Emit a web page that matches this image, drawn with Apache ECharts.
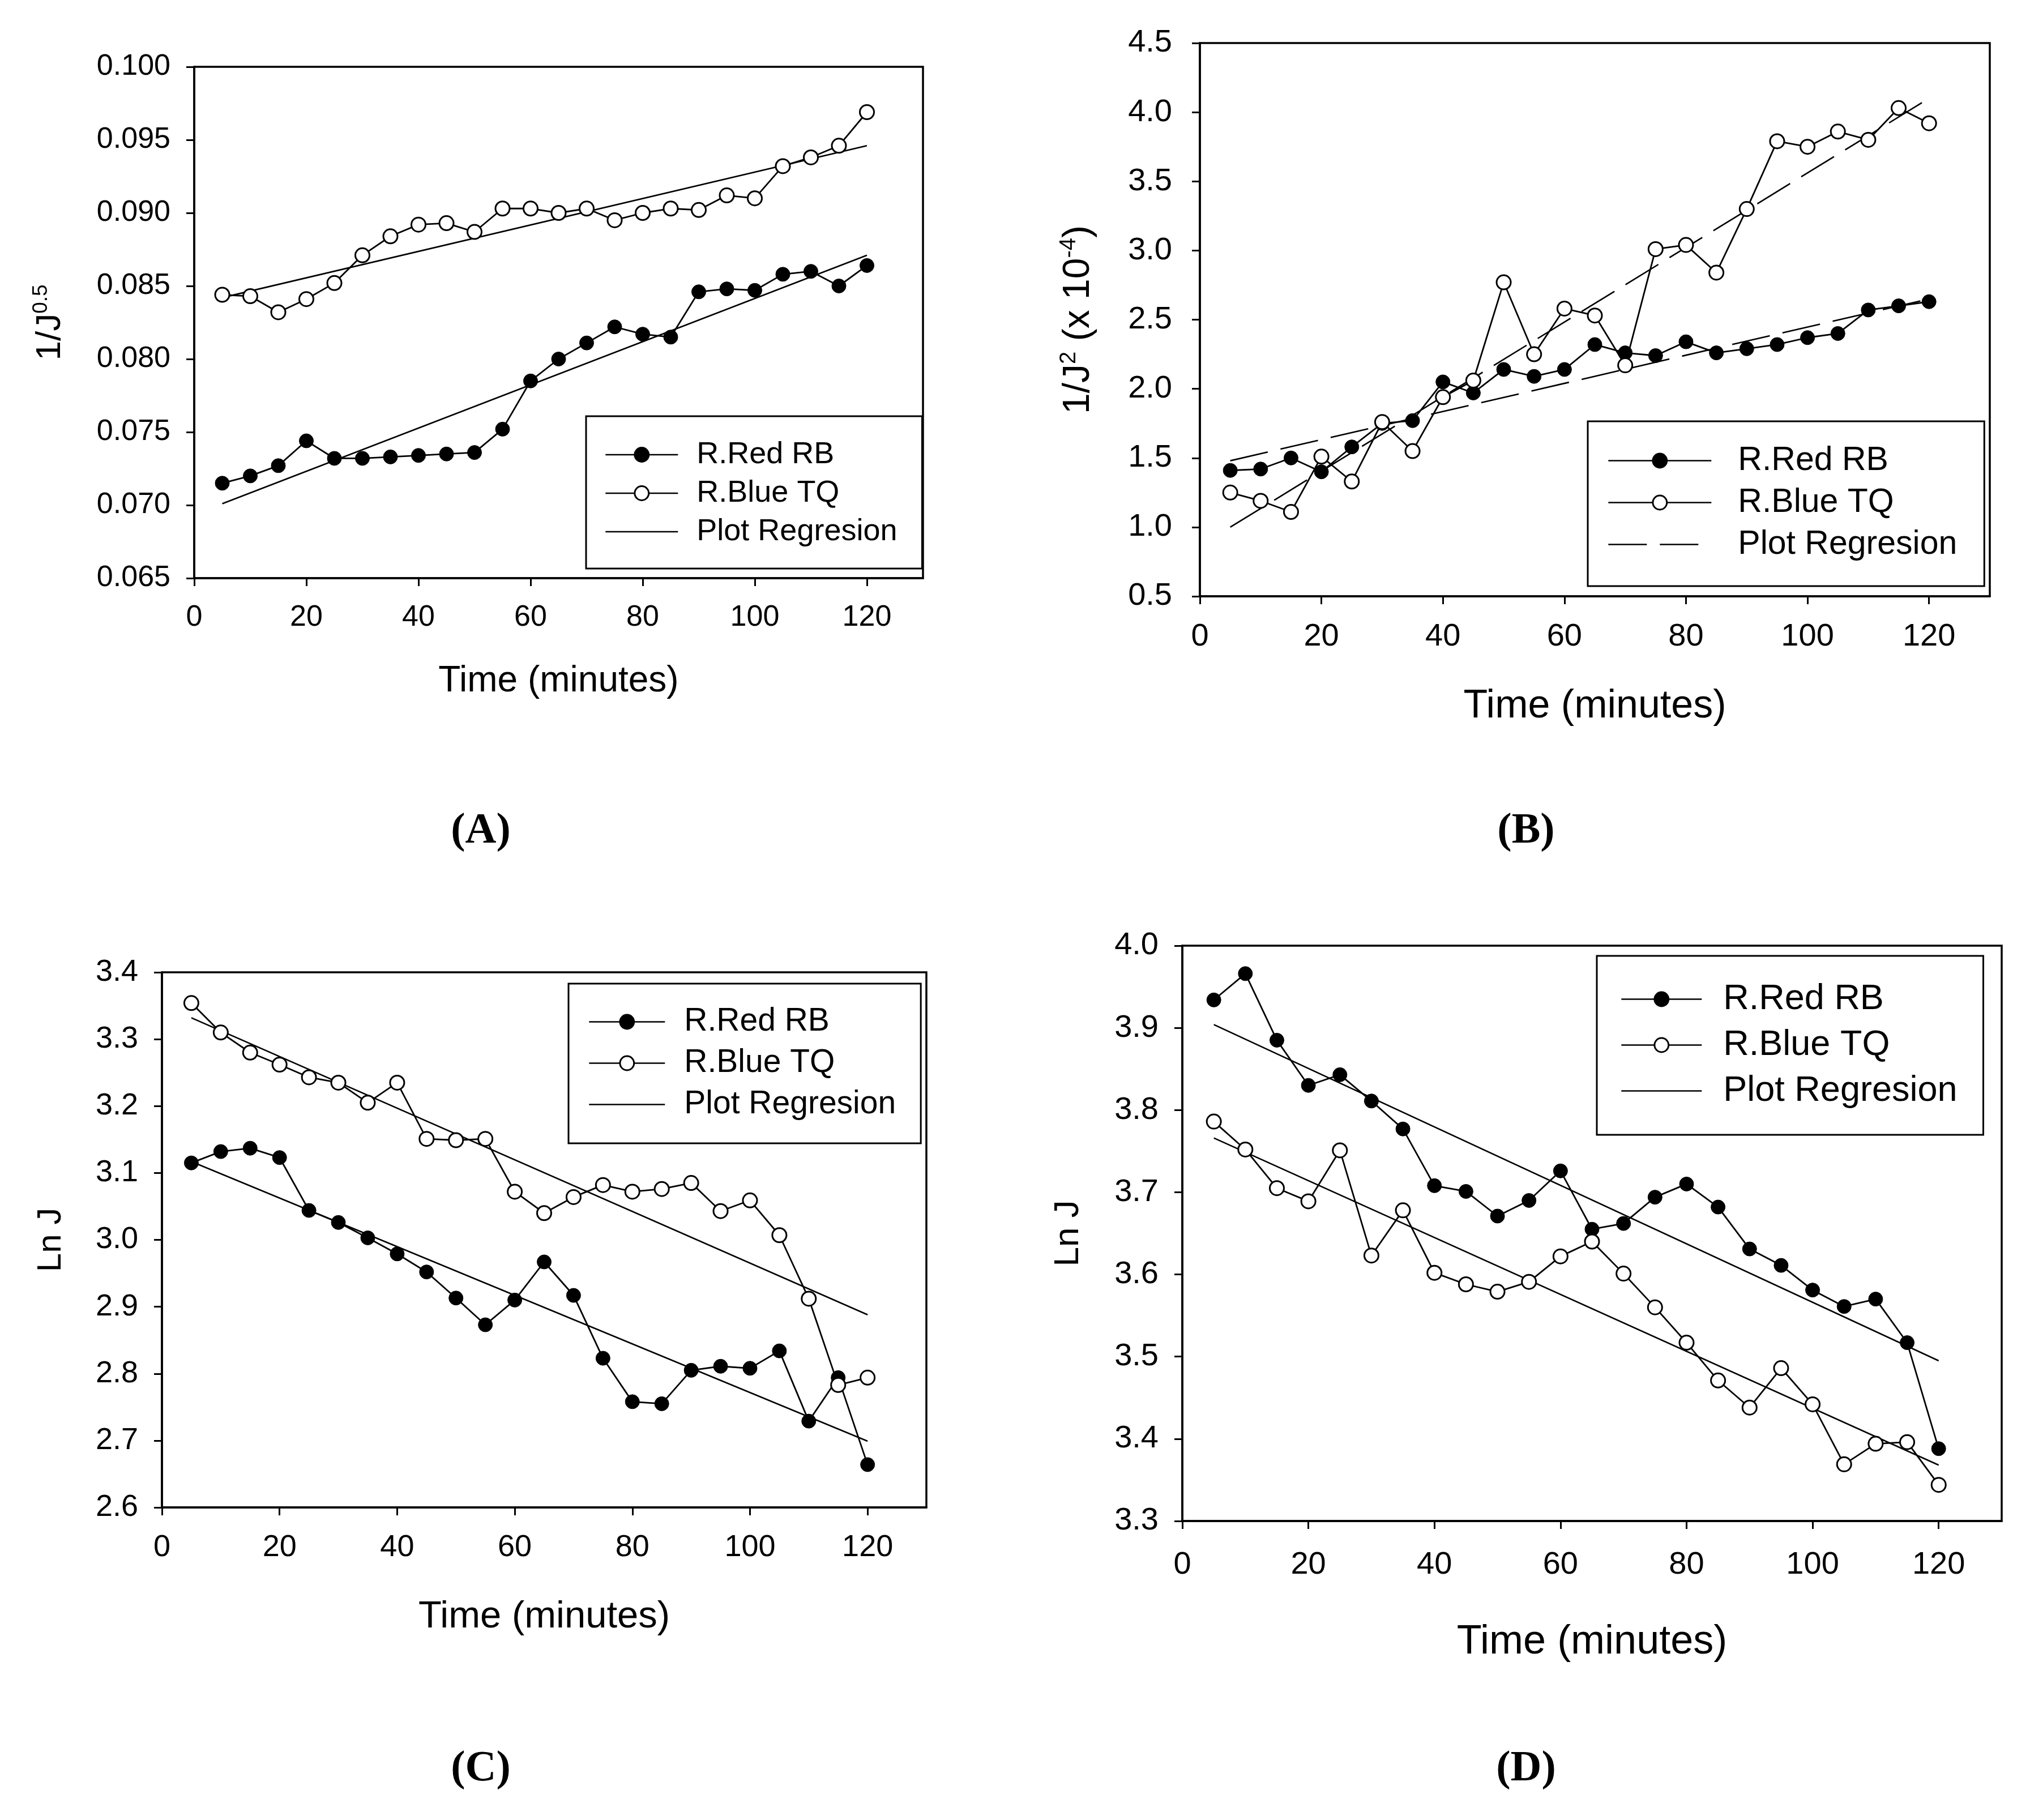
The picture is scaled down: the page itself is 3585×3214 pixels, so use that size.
<!DOCTYPE html>
<html>
<head>
<meta charset="utf-8">
<script src="https://cdn.jsdelivr.net/npm/echarts@6/dist/echarts.min.js"></script>
<style>
html,body{margin:0;padding:0;background:#fff;}
#c{width:3585px;height:3214px;}
</style>
</head>
<body>
<div id="c"></div>
<script>
// ---------------- DATA ----------------
const time = [5,10,15,20,25,30,35,40,45,50,55,60,65,70,75,80,85,90,95,100,105,110,115,120];
const regTime = [5, 120];
const xTickValues = [0, 20, 40, 60, 80, 100, 120];
const legendNames = ['R.Red RB', 'R.Blue TQ', 'Plot Regresion'];
const xTitle = 'Time (minutes)';
const panelLabels = ['(A)', '(B)', '(C)', '(D)'];

// Panel A : 1/J^0.5
const aRed  = [0.0715,0.0720,0.0727,0.0744,0.0732,0.0732,0.0733,0.0734,0.0735,0.0736,0.0752,0.0785,
               0.0800,0.0811,0.0822,0.0817,0.0815,0.0846,0.0848,0.0847,0.0858,0.0860,0.0850,0.0864];
const aBlue = [0.0844,0.0843,0.0832,0.0841,0.0852,0.0871,0.0884,0.0892,0.0893,0.0887,0.0903,0.0903,
               0.0900,0.0903,0.0895,0.0900,0.0903,0.0902,0.0912,0.0910,0.0932,0.0938,0.0946,0.0969];
const aRegRed  = [0.0701, 0.0871];
const aRegBlue = [0.0842, 0.0946];

// Panel B : 1/J^2 (x 10^-4)
const bRed  = [1.41,1.42,1.50,1.40,1.58,1.75,1.77,2.05,1.97,2.14,2.09,2.14,
               2.32,2.26,2.24,2.34,2.26,2.29,2.32,2.37,2.40,2.57,2.60,2.63];
const bBlue = [1.25,1.19,1.11,1.51,1.33,1.76,1.55,1.94,2.06,2.77,2.25,2.58,
               2.53,2.17,3.01,3.04,2.84,3.30,3.79,3.75,3.86,3.80,4.03,3.92];
const bRegRed  = [1.48, 2.65];
const bRegBlue = [1.00, 4.10];

// Panel C : Ln J
const cRed  = [3.115,3.132,3.137,3.123,3.044,3.026,3.003,2.979,2.952,2.913,2.873,2.910,
               2.967,2.917,2.823,2.758,2.755,2.805,2.811,2.808,2.834,2.729,2.794,2.664];
const cBlue = [3.354,3.310,3.280,3.262,3.243,3.235,3.205,3.235,3.151,3.149,3.151,3.072,
               3.040,3.064,3.082,3.072,3.076,3.085,3.043,3.059,3.007,2.912,2.783,2.794];
const cRegRed  = [3.117, 2.699];
const cRegBlue = [3.332, 2.888];

// Panel D : Ln J
const dRed  = [3.934,3.966,3.885,3.830,3.843,3.811,3.777,3.708,3.701,3.671,3.690,3.726,
               3.655,3.662,3.694,3.710,3.682,3.631,3.611,3.581,3.561,3.570,3.517,3.388];
const dBlue = [3.786,3.752,3.705,3.689,3.751,3.623,3.678,3.602,3.588,3.579,3.591,3.622,
               3.640,3.601,3.560,3.517,3.471,3.438,3.486,3.442,3.369,3.394,3.396,3.344];
const dRegRed  = [3.904, 3.495];
const dRegBlue = [3.766, 3.368];

// ---------------- LAYOUT / STYLE ----------------
const SANS = "'Liberation Sans', Arial, Helvetica, sans-serif";
const SERIF = "'Liberation Serif', 'Times New Roman', serif";

const panels = [
  { red: aRed, blue: aBlue, regRed: aRegRed, regBlue: aRegBlue, dash: 'solid',
    grid: { left: 343, top: 118, width: 1287, height: 903 },
    yMin: 0.065, yMax: 0.100, yStep: 0.005, dec: 3,
    yName: '{b|1/J}{s|0.5}', yFont: 62, yNameGap: 223,
    tickFont: 52, yLabelMargin: 42, xLabelMargin: 44, xFont: 64, xNameGap: 150,
    lg: { left: 1035, top: 735, font: 54, gap: 14, pad: [41, 44, 38, 33], iconW: 128, textPad: 28 },
    label: [849, 1468] },
  { red: bRed, blue: bBlue, regRed: bRegRed, regBlue: bRegBlue, dash: [68, 23],
    grid: { left: 2119, top: 76, width: 1395, height: 977 },
    yMin: 0.5, yMax: 4.5, yStep: 0.5, dec: 1,
    yName: '{b|1/J}{s|2}{b| (x 10}{s|-4}{b|)}', yFont: 66, yNameGap: 181,
    tickFont: 56, yLabelMargin: 49, xLabelMargin: 44, xFont: 70, xNameGap: 160,
    lg: { left: 2804, top: 744, font: 59, gap: 15, pad: [40, 48, 44, 35], iconW: 182, textPad: 42 },
    label: [2695, 1468] },
  { red: cRed, blue: cBlue, regRed: cRegRed, regBlue: cRegBlue, dash: 'solid',
    grid: { left: 286, top: 1717, width: 1350, height: 945 },
    yMin: 2.6, yMax: 3.4, yStep: 0.1, dec: 1,
    yName: '{b|Ln J}', yFont: 60, yNameGap: 166,
    tickFont: 54, yLabelMargin: 42, xLabelMargin: 44, xFont: 67, xNameGap: 160,
    lg: { left: 1004, top: 1737, font: 57, gap: 16, pad: [39, 44, 40, 35], iconW: 134, textPad: 29 },
    label: [849, 3124] },
  { red: dRed, blue: dBlue, regRed: dRegRed, regBlue: dRegBlue, dash: 'solid',
    grid: { left: 2088, top: 1670, width: 1447, height: 1016 },
    yMin: 3.3, yMax: 4.0, yStep: 0.1, dec: 1,
    yName: '{b|Ln J}', yFont: 62, yNameGap: 170,
    tickFont: 56, yLabelMargin: 42, xLabelMargin: 50, xFont: 72, xNameGap: 178,
    lg: { left: 2820, top: 1688, font: 63, gap: 18, pad: [45, 46, 46, 42], iconW: 142, textPad: 33 },
    label: [2695, 3124] }
];

const grids = [], xAxes = [], yAxes = [], series = [], legends = [], graphics = [];

panels.forEach((p, i) => {
  grids.push(Object.assign({ show: true, borderColor: '#000', borderWidth: 3.5, backgroundColor: 'transparent', containLabel: false }, p.grid));

  xAxes.push({
    type: 'value', gridIndex: i, min: 0, max: 130, interval: 20,
    name: xTitle, nameLocation: 'middle', nameGap: p.xNameGap,
    nameTextStyle: { fontSize: p.xFont, fontFamily: SANS, color: '#000' },
    axisLine: { show: true, onZero: false, lineStyle: { color: '#000', width: 3.5 } },
    axisTick: { show: true, inside: false, length: 14, lineStyle: { color: '#000', width: 3 }, customValues: xTickValues },
    axisLabel: { show: true, margin: p.xLabelMargin, fontSize: p.tickFont, fontFamily: SANS, color: '#000', customValues: xTickValues },
    splitLine: { show: false }
  });

  yAxes.push({
    type: 'value', gridIndex: i, min: p.yMin, max: p.yMax, interval: p.yStep,
    name: p.yName, nameLocation: 'middle', nameRotate: 90, nameGap: p.yNameGap,
    nameTextStyle: {
      fontSize: p.yFont, fontFamily: SANS, color: '#000',
      rich: {
        b: { fontSize: p.yFont, lineHeight: Math.round(p.yFont * 1.06), verticalAlign: 'bottom', fontFamily: SANS, color: '#000' },
        s: { fontSize: Math.round(p.yFont * 0.6), lineHeight: Math.round(p.yFont * 0.6), verticalAlign: 'top', fontFamily: SANS, color: '#000' }
      }
    },
    axisLine: { show: true, onZero: false, lineStyle: { color: '#000', width: 3.5 } },
    axisTick: { show: true, inside: false, length: 14, lineStyle: { color: '#000', width: 3 } },
    axisLabel: { show: true, margin: p.yLabelMargin, fontSize: p.tickFont, fontFamily: SANS, color: '#000',
                 formatter: v => Number(v).toFixed(p.dec) },
    splitLine: { show: false }
  });

  const regStyle = { color: '#000', width: 2.6, type: p.dash };
  series.push({
    type: 'line', name: legendNames[2], xAxisIndex: i, yAxisIndex: i, z: 2,
    data: regTime.map((t, k) => [t, p.regRed[k]]),
    symbol: 'none', lineStyle: regStyle, itemStyle: { color: '#000' }, silent: true, animation: false
  });
  series.push({
    type: 'line', name: legendNames[2], xAxisIndex: i, yAxisIndex: i, z: 2,
    data: regTime.map((t, k) => [t, p.regBlue[k]]),
    symbol: 'none', lineStyle: regStyle, itemStyle: { color: '#000' }, silent: true, animation: false
  });
  series.push({
    type: 'line', name: legendNames[0], xAxisIndex: i, yAxisIndex: i, z: 3,
    data: time.map((t, k) => [t, p.red[k]]),
    symbol: 'circle', symbolSize: 25,
    itemStyle: { color: '#000', borderColor: '#000', borderWidth: 1 },
    lineStyle: { color: '#000', width: 2.8 }, animation: false
  });
  series.push({
    type: 'line', name: legendNames[1], xAxisIndex: i, yAxisIndex: i, z: 4,
    data: time.map((t, k) => [t, p.blue[k]]),
    symbol: 'circle', symbolSize: 25,
    itemStyle: { color: '#fff', borderColor: '#000', borderWidth: 3 },
    lineStyle: { color: '#000', width: 2.8 }, animation: false
  });

  const L = p.lg;
  legends.push({
    show: true, orient: 'vertical', left: L.left, top: L.top,
    padding: L.pad, itemGap: L.gap, itemWidth: L.iconW, itemHeight: 31,
    borderColor: '#000', borderWidth: 3, borderRadius: 0, backgroundColor: '#fff',
    selectedMode: false,
    data: [
      { name: legendNames[0] },
      { name: legendNames[1] },
      { name: legendNames[2],
        itemStyle: { color: 'rgba(0,0,0,0)', borderColor: 'rgba(0,0,0,0)', borderWidth: 0 },
        lineStyle: { color: '#000', width: 2.6, type: p.dash } }
    ],
    textStyle: { fontSize: L.font, fontFamily: SANS, color: '#000', padding: [0, 0, 0, L.textPad] },
    lineStyle: { width: 2.6 },
    itemStyle: { borderWidth: 3 }
  });

  graphics.push({
    type: 'text', x: p.label[0], y: p.label[1],
    style: { text: panelLabels[i], fontSize: 76, fontWeight: 'bold', fontFamily: SERIF, fill: '#000',
             align: 'center', verticalAlign: 'middle' }
  });
});

const chart = echarts.init(document.getElementById('c'), null, { renderer: 'canvas', width: 3585, height: 3214 });
chart.setOption({
  backgroundColor: '#fff',
  animation: false,
  grid: grids,
  xAxis: xAxes,
  yAxis: yAxes,
  legend: legends,
  series: series,
  graphic: graphics
});
</script>
</body>
</html>
